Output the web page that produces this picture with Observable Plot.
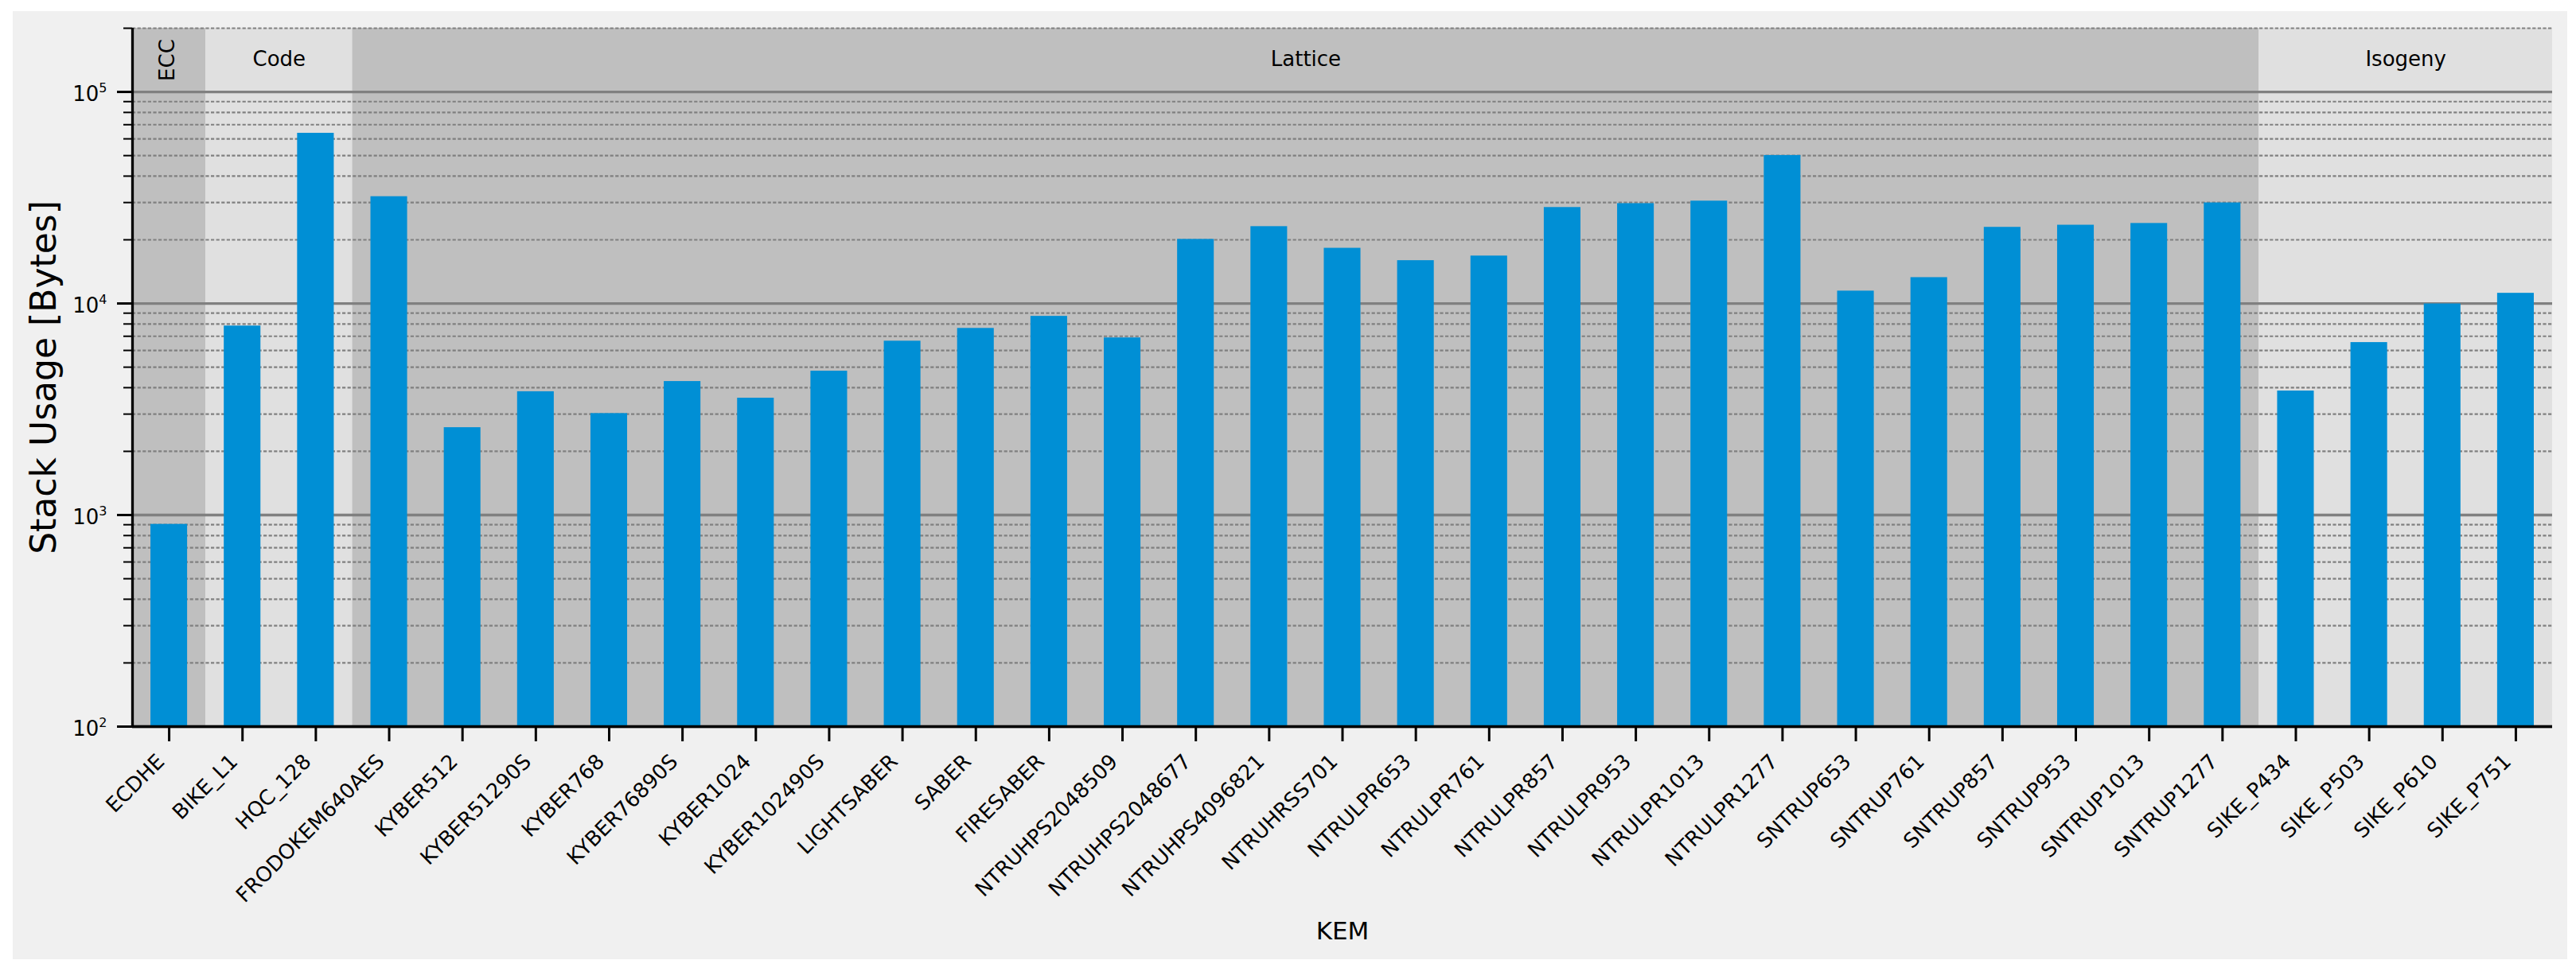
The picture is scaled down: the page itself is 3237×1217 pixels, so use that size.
<!DOCTYPE html>
<html><head><meta charset="utf-8">
<script src="https://cdn.jsdelivr.net/npm/d3@7"></script>
<script src="https://cdn.jsdelivr.net/npm/@observablehq/plot@0.6"></script>
<style>
html,body{margin:0;padding:0;background:#fff;overflow:hidden}
#fig{position:relative;width:3237px;height:1217px}
#panel{position:absolute;left:16px;top:14px;width:3210px;height:1192px;background:#f0f0f0}
#fig svg{position:absolute;left:0;top:0}
</style></head><body><div id="fig"><div id="panel"></div></div>
<script>
// ---- data ----
const kems = ["ECDHE","BIKE_L1","HQC_128","FRODOKEM640AES","KYBER512","KYBER51290S","KYBER768","KYBER76890S","KYBER1024","KYBER102490S","LIGHTSABER","SABER","FIRESABER","NTRUHPS2048509","NTRUHPS2048677","NTRUHPS4096821","NTRUHRSS701","NTRULPR653","NTRULPR761","NTRULPR857","NTRULPR953","NTRULPR1013","NTRULPR1277","SNTRUP653","SNTRUP761","SNTRUP857","SNTRUP953","SNTRUP1013","SNTRUP1277","SIKE_P434","SIKE_P503","SIKE_P610","SIKE_P751"];
const stackBytes = [904,7830,63800,32000,2590,3830,3020,4280,3570,4790,6640,7630,8700,6880,20100,23100,18250,15950,16770,28440,29670,30490,50100,11450,13260,22920,23460,23910,29900,3860,6540,9960,11180];
const kemFamily = ["ECC","Code","Code","Lattice","Lattice","Lattice","Lattice","Lattice","Lattice","Lattice","Lattice","Lattice","Lattice","Lattice","Lattice","Lattice","Lattice","Lattice","Lattice","Lattice","Lattice","Lattice","Lattice","Lattice","Lattice","Lattice","Lattice","Lattice","Lattice","Isogeny","Isogeny","Isogeny","Isogeny"];
const families = ["ECC","Code","Lattice","Isogeny"];
const yMajorTicks = [100,1000,10000,100000];
const yMinorTicks = [200,300,400,500,600,700,800,900,2000,3000,4000,5000,6000,7000,8000,9000,20000,30000,40000,50000,60000,70000,80000,90000,200000];
const yDomain = [100,200000];
const xLabel = "KEM";
const yLabel = "Stack Usage [Bytes]";

// ---- styles ----
const familyFill = ["#bfbfbf","#e0e0e0","#bfbfbf","#e0e0e0"];
const barColor = "#008fd5";
const gridColor = "#808080";

const rows = kems.map((kem, i) => ({i, kem, value: stackBytes[i], family: kemFamily[i]}));
const regions = families.map(f => {
  const idx = rows.filter(r => r.family === f).map(r => r.i);
  const start = d3.min(idx), end = d3.max(idx);
  return {family: f, start, end, mid: (start + end) / 2, narrow: start === end};
});

const chart = Plot.plot({
  width: 3237, height: 1217,
  marginLeft: 166, marginRight: 30, marginTop: 35, marginBottom: 304,
  style: {background: "transparent", fontFamily: "DejaVu Sans", color: "black"},
  x: {type: "linear", domain: [-0.5, kems.length - 0.5]},
  y: {type: "log", domain: yDomain},
  color: {domain: families, range: familyFill},
  marks: [
    Plot.rect(regions, {x1: d => d.start - 0.5, x2: d => d.end + 0.5, fill: "family"}),
    Plot.ruleY(yMinorTicks, {stroke: gridColor, strokeWidth: 2.2, strokeDasharray: "4.2,2.4"}),
    Plot.ruleY(yMajorTicks, {stroke: gridColor, strokeWidth: 3.3}),
    Plot.rect(rows, {x1: d => d.i - 0.25, x2: d => d.i + 0.25, y1: yDomain[0], y2: "value", fill: barColor}),
    Plot.ruleX([-0.5], {stroke: "black", strokeWidth: 3.3}),
    Plot.ruleY([yDomain[0]], {stroke: "black", strokeWidth: 3.3}),
    Plot.axisY(yMajorTicks, {tickSize: 19, strokeWidth: 3, fill: "none", label: null, tickFormat: () => ""}),
    Plot.axisY(yMinorTicks, {tickSize: 11, strokeWidth: 2, fill: "none", label: null, tickFormat: () => ""}),
    Plot.axisX(rows.map(r => r.i), {tickSize: 19, strokeWidth: 3, fill: "none", label: null, tickFormat: () => ""}),
    Plot.text(yMajorTicks, {y: d => d, text: d => "10^" + Math.round(Math.log10(d)),
      frameAnchor: "left", dx: -32, dy: 3, textAnchor: "end", lineAnchor: "middle", fontSize: 26}),
    Plot.text(rows, {x: "i", text: "kem", frameAnchor: "bottom", dx: -4.5, dy: 45.5, rotate: -45,
      textAnchor: "end", lineAnchor: "bottom", fontSize: 26}),
    Plot.text(regions.filter(r => !r.narrow), {x: "mid", text: "family", frameAnchor: "top", dy: 39.5,
      textAnchor: "middle", lineAnchor: "middle", fontSize: 26}),
    Plot.text(regions.filter(r => r.narrow), {x: "mid", text: "family", frameAnchor: "top", dy: 40, dx: -2.3, rotate: -90,
      textAnchor: "middle", lineAnchor: "middle", fontSize: 26}),
    Plot.text([xLabel], {text: d => d, frameAnchor: "bottom", dy: 267, textAnchor: "middle", lineAnchor: "bottom", fontSize: 31}),
    Plot.text([yLabel], {text: d => d, frameAnchor: "left", dx: -97, rotate: -90, textAnchor: "middle", lineAnchor: "bottom", fontSize: 44})
  ]
});

// power-of-ten labels: base plus a raised, smaller exponent
d3.select(chart).selectAll("text").each(function () {
  const m = /^10\^(\d+)$/.exec(this.textContent);
  if (!m) return;
  const t = d3.select(this);
  t.text("10");
  t.append("tspan").attr("dy", -11).attr("font-size", 16).text(m[1]);
});

document.getElementById("fig").appendChild(chart);
</script></body></html>
